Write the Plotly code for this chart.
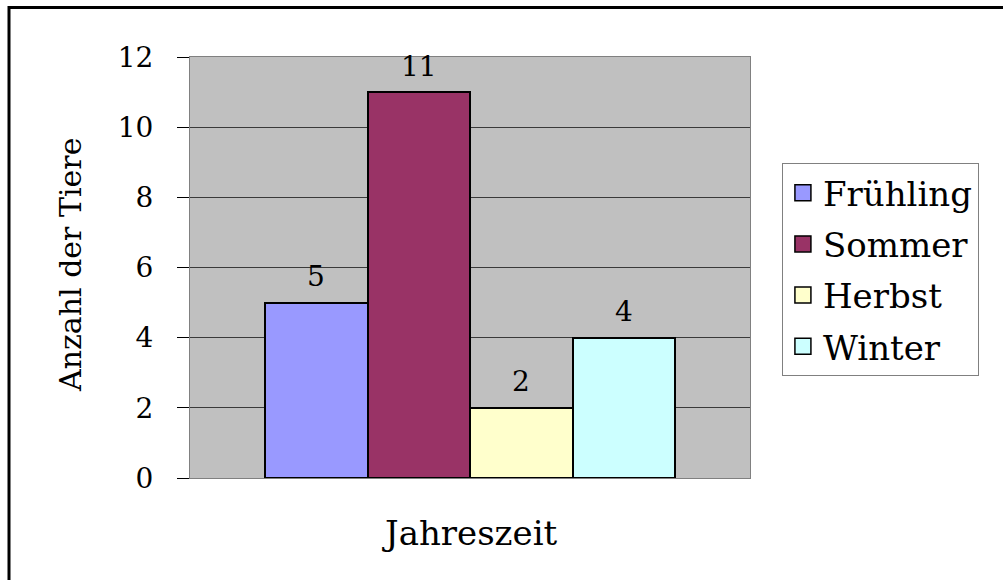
import plotly.graph_objects as go

# Number of animals observed per season
seasons = ["Frühling", "Sommer", "Herbst", "Winter"]
counts = [5, 11, 2, 4]
colors = ["#9999FF", "#993366", "#FFFFCC", "#CCFFFF"]

y_ticks = [0, 2, 4, 6, 8, 10, 12]
x_title = "Jahreszeit"
y_title = "Anzahl der Tiere"

FONT = "DejaVu Serif"

fig = go.Figure()

for name, val, col in zip(seasons, counts, colors):
    fig.add_trace(go.Bar(
        x=[name], y=[val], name=name,
        marker=dict(color=col, line=dict(color="black", width=2)),
        showlegend=False, hoverinfo="x+y",
    ))
    # legend swatch with a larger square symbol
    fig.add_trace(go.Scatter(
        x=[None], y=[None], mode="markers", name=name, legendgroup=name,
        marker=dict(symbol="square", size=16, color=col,
                    line=dict(color="black", width=1.5)),
    ))
    # value label above each bar
    fig.add_annotation(
        x=name, y=val, xref="x", yref="y", text=str(val), showarrow=False,
        yanchor="middle", yshift=26, font=dict(family=FONT, size=28, color="black"),
    )

n = len(seasons)
half = n * 560 / 410 / 2
center = (n - 1) / 2

fig.update_layout(
    width=1003, height=580,
    margin=dict(l=190, r=253, t=57, b=102),
    paper_bgcolor="white",
    plot_bgcolor="#C0C0C0",
    barmode="overlay",
    bargap=0,
    font=dict(family=FONT, color="black"),
    legend=dict(
        x=1.057, y=0.748, xanchor="left", yanchor="top",
        bgcolor="white", bordercolor="#808080", borderwidth=1,
        font=dict(family=FONT, size=34, color="black"),
        tracegroupgap=4, itemsizing="trace",
    ),
    showlegend=True,
)

fig.update_xaxes(
    range=[center - half, center + half],
    showticklabels=False, ticks="",
    showline=True, linecolor="#808080", linewidth=1, mirror=True,
    showgrid=False, zeroline=False, fixedrange=True,
)
fig.update_yaxes(
    range=[0, 12], tickvals=y_ticks,
    ticks="outside", ticklen=12, tickcolor="black", tickwidth=1,
    ticklabelstandoff=18,
    tickfont=dict(family=FONT, size=28, color="black"),
    showline=True, linecolor="#808080", linewidth=1, mirror=True,
    showgrid=True, gridcolor="#3a3a3a", gridwidth=1,
    zeroline=False, fixedrange=True,
)

# axis titles
fig.add_annotation(
    text=x_title, xref="paper", yref="paper", x=0.5, y=(478 - 533) / 421,
    xanchor="center", yanchor="middle", showarrow=False,
    font=dict(family=FONT, size=34, color="black"),
)
fig.add_annotation(
    text=y_title, xref="paper", yref="paper", x=(70 - 190) / 560, y=(478 - 265) / 421,
    xanchor="center", yanchor="middle", textangle=-90, showarrow=False,
    font=dict(family=FONT, size=30, color="black"),
)

# outer chart frame
fig.add_shape(
    type="rect", xref="paper", yref="paper",
    x0=(9 - 190) / 560, x1=(1010 - 190) / 560,
    y0=(478 - 590) / 421, y1=(478 - 7.5) / 421,
    line=dict(color="black", width=3), fillcolor="rgba(0,0,0,0)", layer="above",
)

fig.write_html("out.html")
